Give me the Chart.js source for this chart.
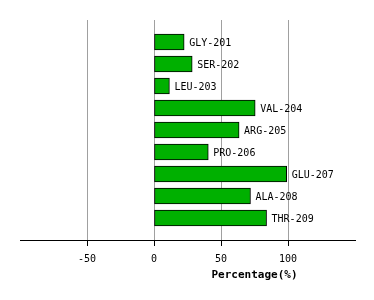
<!DOCTYPE html>
<html>
<head>
<meta charset="utf-8">
<script src="https://cdn.jsdelivr.net/npm/chart.js@4/dist/chart.umd.min.js"></script>
<style>
  html, body { margin: 0; padding: 0; background: #fff; }
  #Chart1 { display: block; }
</style>
</head>
<body>
<canvas id="Chart1" width="374" height="300"></canvas>
<script>
// residues, top to bottom, padded with an empty slot at each end
const residues = ['', 'GLY-201', 'SER-202', 'LEU-203', 'VAL-204', 'ARG-205', 'PRO-206', 'GLU-207', 'ALA-208', 'THR-209', '']
const percentages = [null, 22.5, 28.5, 11.5, 75.5, 63.5, 40.5, 99, 72, 84, null]
const xTicks = [-50, 0, 50, 100]
const xTitle = 'Percentage(%)'

const monoFont = "'DejaVu Sans Mono', monospace"

// bar labels to the right of each bar + axis title centred over 0..150
const labelPlugin = {
    id: 'barLabels',
    afterDatasetsDraw(chart) {
        const { ctx } = chart
        const meta = chart.getDatasetMeta(0)
        ctx.save()
        ctx.font = '10px ' + monoFont
        ctx.fillStyle = '#000'
        ctx.textBaseline = 'middle'
        ctx.textAlign = 'left'
        meta.data.forEach((bar, i) => {
            if (percentages[i] == null) return
            ctx.fillText(residues[i], bar.x + 5, bar.y + 1)
        })
        ctx.restore()
    },
    afterDraw(chart) {
        const { ctx, scales } = chart
        ctx.save()
        ctx.font = 'bold 11px ' + monoFont
        ctx.fillStyle = '#000'
        ctx.textAlign = 'center'
        ctx.textBaseline = 'middle'
        ctx.fillText(xTitle, scales.x.getPixelForValue(75), 275)
        ctx.restore()
    }
}

const chart = new Chart(
    document.getElementById('Chart1'),
    {
        type: 'bar',
        data: {
            labels: residues,
            datasets: [
            {
                data: percentages,
                backgroundColor: 'rgb(0, 176, 0)',
                borderColor: '#000',
                borderWidth: 1,
                borderSkipped: false,
                barThickness: 16
            }
            ]
        },
        plugins: [labelPlugin],
        options: {
            indexAxis: 'y',
            responsive: false,
            animation: false,
            layout: {
                padding: { left: 20, right: 19, top: 20, bottom: 0 }
            },
            scales: {
                x: {
                    min: -100,
                    max: 150,
                    afterBuildTicks: scale => {
                        scale.ticks = xTicks.map(v => ({ value: v }))
                    },
                    afterFit: scale => { scale.height = 60 },
                    grid: {
                        color: '#a0a0a0',
                        tickColor: '#000',
                        tickLength: 6,
                        drawOnChartArea: true
                    },
                    border: { display: true, color: '#000', width: 1 },
                    ticks: {
                        font: { family: monoFont, size: 10 },
                        color: '#000',
                        padding: 7,
                        maxRotation: 0
                    }
                },
                y: {
                    display: false,
                    offset: false
                }
            },
            plugins: {
                legend: { display: false },
                tooltip: { enabled: false }
            }
        }
    }
)
</script>
</body>
</html>
